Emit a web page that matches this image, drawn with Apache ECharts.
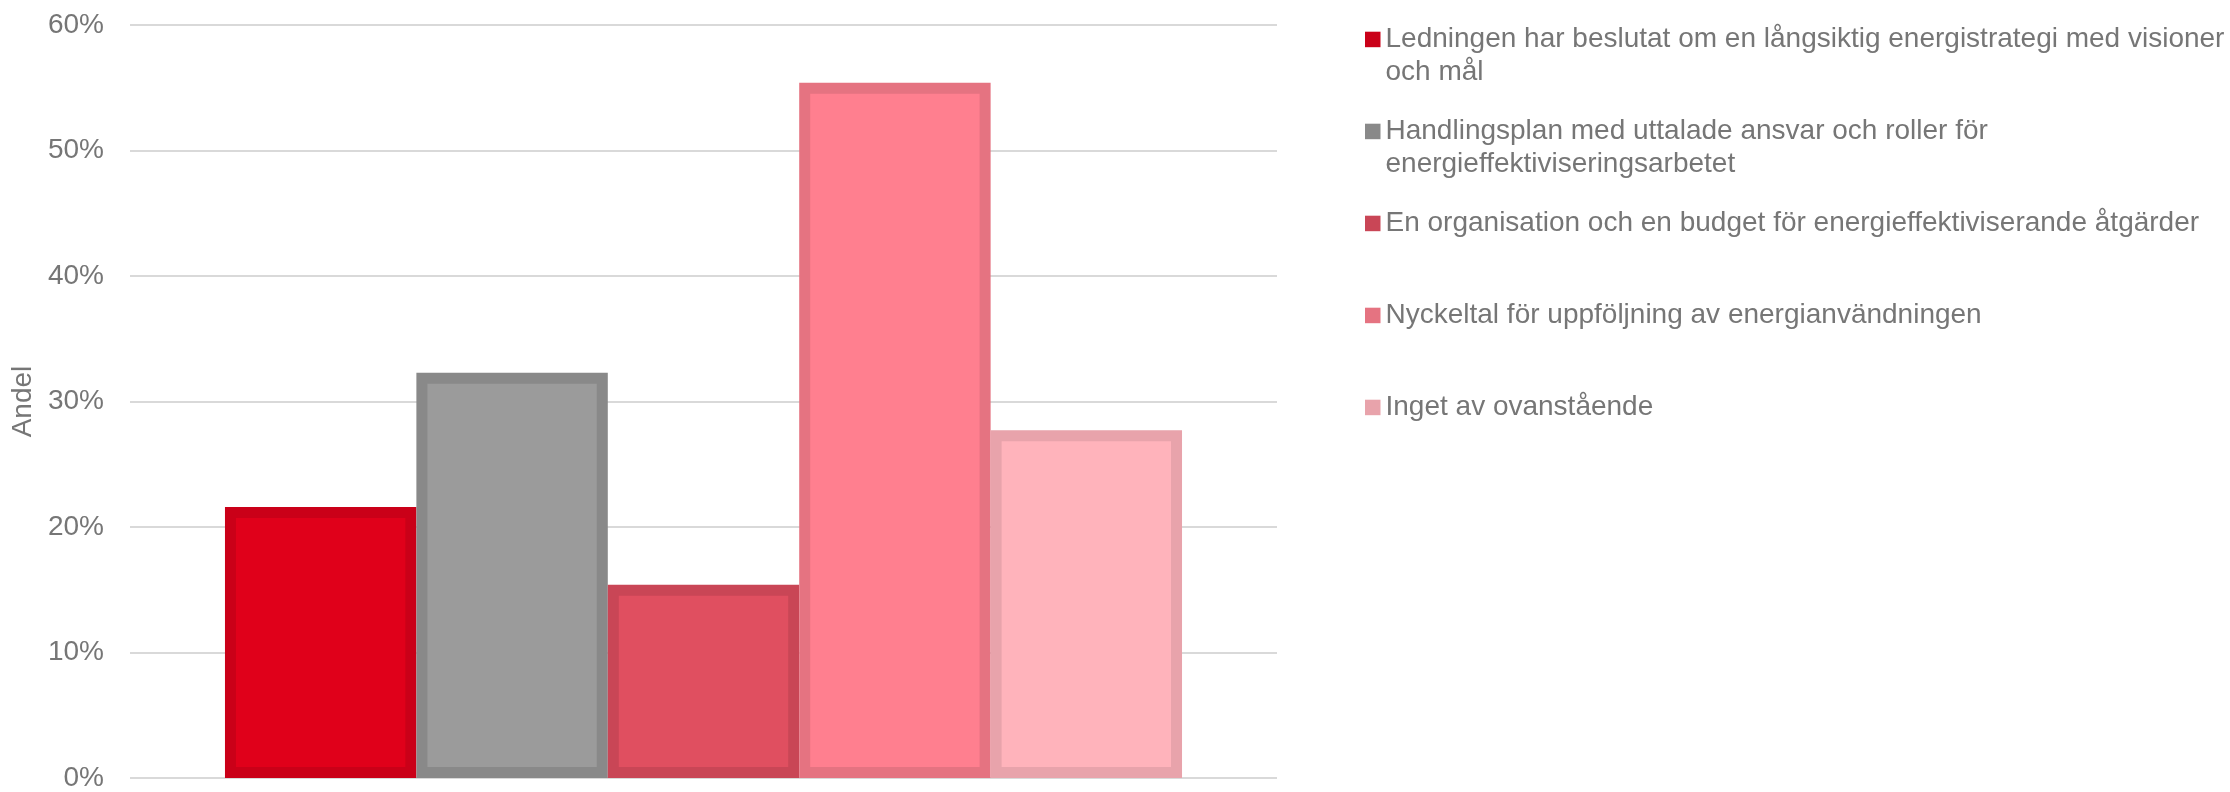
<!DOCTYPE html>
<html><head><meta charset="utf-8">
<script src="https://cdn.jsdelivr.net/npm/echarts@6/dist/echarts.min.js"></script>
<style>html,body{margin:0;padding:0;background:#fff}#c{width:2230px;height:792px}</style>
</head><body><div id="c"></div>
<script>
// ---- data ----
const categories = [''];
const seriesNames = [
  'Ledningen har beslutat om en långsiktig energistrategi med visioner\noch mål',
  'Handlingsplan med uttalade ansvar och roller för\nenergieffektiviseringsarbetet',
  'En organisation och en budget för energieffektiviserande åtgärder',
  'Nyckeltal för uppföljning av energianvändningen',
  'Inget av ovanstående'
];
const seriesValues = [21.6, 32.3, 15.4, 55.4, 27.7]; // percent
const yTicks = [0, 10, 20, 30, 40, 50, 60];
const yAxisTitle = 'Andel';

// ---- styles ----
const fillColors   = ['#E0001A', '#9B9B9B', '#E04F60', '#FF7F8F', '#FFB3BB'];
const borderColors = ['#CA0018', '#898989', '#C94656', '#E57381', '#E8A3AB'];
const BORDER = 11;
const GROUP_FRAC = 0.8344;
const TEXT = '#767676';
const FONT = 'Liberation Sans, Arial, sans-serif';

const chart = echarts.init(document.getElementById('c'), null, {renderer: 'canvas'});

const series = seriesNames.map((name, i) => ({
  type: 'custom',
  name: name,
  itemStyle: {color: borderColors[i]},
  data: categories.map((c, ci) => [ci, seriesValues[i]]),
  encode: {x: 0, y: 1},
  renderItem: function (params, api) {
    const cat = api.value(0), v = api.value(1);
    const top = api.coord([cat, v]);
    const base = api.coord([cat, 0]);
    const band = api.size([1, 0])[0];
    const n = seriesNames.length;
    const groupW = band * GROUP_FRAC;
    const w = groupW / n;
    const x0 = top[0] - groupW / 2 + params.seriesIndex * w;
    return {
      type: 'rect',
      shape: {x: x0 + BORDER / 2, y: top[1] + BORDER / 2, width: w - BORDER, height: base[1] - top[1] - BORDER},
      style: {fill: fillColors[params.seriesIndex], stroke: borderColors[params.seriesIndex], lineWidth: BORDER}
    };
  }
}));

const ICON = 15.5, LINE_H = 33, FIRST_ICON_TOP = 31.7, ITEM_STEP = 92;
const legends = seriesNames.map((name, i) => {
  const multi = name.indexOf('\n') >= 0;
  const blockHalf = multi ? 1.5 * LINE_H : 0.5 * LINE_H;
  const iconTop = FIRST_ICON_TOP + ITEM_STEP * i;
  return {
    data: [name],
    orient: 'vertical',
    left: 1365,
    top: iconTop - (blockHalf - ICON / 2),
    padding: 0,
    icon: 'rect',
    itemWidth: ICON,
    itemHeight: ICON,
    selectedMode: false,
    formatter: function (n) { return n.indexOf('\n') >= 0 ? '\n' + n : n; },
    textStyle: {color: TEXT, fontSize: 28, lineHeight: LINE_H, fontFamily: FONT}
  };
});

chart.setOption({
  animation: false,
  grid: {left: 130, right: 953, top: 25, bottom: 12, containLabel: false},
  legend: legends,
  xAxis: {
    type: 'category', data: categories, boundaryGap: true,
    axisLine: {show: false}, axisTick: {show: false}, axisLabel: {show: false}, splitLine: {show: false}
  },
  yAxis: {
    type: 'value', min: yTicks[0], max: yTicks[yTicks.length - 1], interval: yTicks[1] - yTicks[0],
    name: yAxisTitle, nameLocation: 'middle', nameRotate: 90, nameGap: 87,
    nameTextStyle: {color: TEXT, fontSize: 28, fontFamily: FONT},
    axisLine: {show: false}, axisTick: {show: false},
    axisLabel: {formatter: '{value}%', color: TEXT, fontSize: 28, fontFamily: FONT, margin: 26},
    splitLine: {lineStyle: {color: '#D9D9D9', width: 2}}
  },
  series: series
});
</script></body></html>
